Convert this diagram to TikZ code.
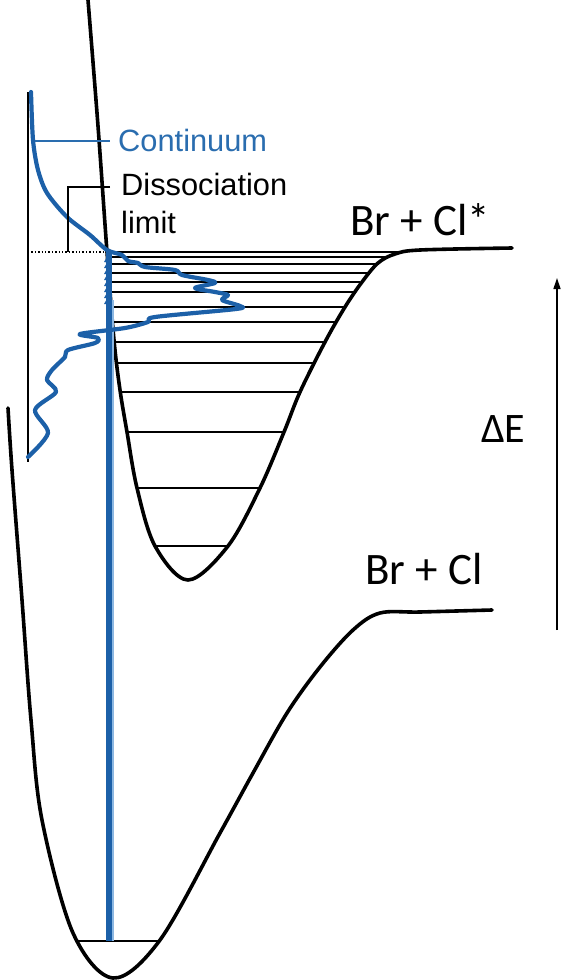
\documentclass[tikz,border=0pt]{standalone}
\usepackage{fontspec}
\setmainfont{Liberation Sans}
\newfontfamily\cali{Carlito}
\usetikzlibrary{arrows.meta}
\definecolor{specblue}{HTML}{1C60A8}
\definecolor{lightblue}{HTML}{8DB8E2}
\definecolor{contblue}{HTML}{2A6DAF}
\tikzset{
  pot/.style={line width=3.6pt, line cap=round, line join=round},
  lvl/.style={line width=1.8pt},
  thin/.style={line width=1.4pt},
  spec/.style={specblue, line width=4.2pt, line cap=round, line join=round},
  helv/.style={inner sep=0pt, anchor=base west, font=\fontsize{30.8}{38}\selectfont},
  big/.style={inner sep=0pt, anchor=base west, font=\cali\fontsize{45}{54}\selectfont},
}
\begin{document}
\begin{tikzpicture}[x=1pt,y=-1pt]
\useasboundingbox (0,0) rectangle (564,980);
% vibrational levels of the excited state
\foreach \yy/\xl/\xr in {252/107/398,257/110/387,264/110/375,273/111/367,282/111/360,292/112/353,307/113/345,322/114/335,342/115/325,363/118/314,392/121/300,432/127/284,488/137/260,546/155/228}
  \draw[lvl] (\xl,\yy) -- (\xr,\yy);
% ground state level
\draw[lvl] (75,941) -- (159,941);
% dissociation dotted line
\draw[thin, dotted] (28,252) -- (107,252);
% excited potential
\draw[pot] plot[smooth, tension=0.55] coordinates {(88,0) (98,126) (107,252) (114,340) (120,390) (127,432) (137,488) (155,546) (188,580) (228,546) (260,488) (284,432) (300,392) (325,342) (345,307) (362,282) (378,263) (395,254) (420,250) (512,248)};
% ground potential
\draw[pot] plot[smooth, tension=0.55] coordinates {(8,408) (12,470) (22,600) (31,720) (42,820) (73,933) (113,978) (160,940) (220,833) (253,773) (287,713) (320,667) (353,630) (380,613) (420,612) (492,610)};
% vertical transition
\draw[specblue, line width=6pt] (109,252) -- (109,941);
\draw[lightblue, line width=1.8pt] (113,300) -- (113,941);
% spectrum axis
\draw[thin] (28,92) -- (28,462);
% spectrum
\draw[spec] plot[smooth, tension=0.5] coordinates {(31,92) (33,140) (38,170) (47,193) (67,217) (90,235) (107,250) (122,255) (128,261) (138,263) (145,267) (175,270) (182,275) (208,280) (215,283) (195,288) (215,292) (228,295) (222,300) (240,306) (236,309) (155,317) (148,322) (125,328) (80,334) (98,338) (95,343) (68,350) (65,357) (52,370) (47,380) (56,392) (35,410) (48,433) (28,457)};
% line markers
\foreach \yy in {258,264,270,276,282,288,294,300}
  \fill[specblue] (104,\yy+4) -- (108,\yy-3) -- (112,\yy+4) -- cycle;
% labels
\node[helv, text=contblue] (cont) at (118,151) {Continuum};
\node[helv] (diss) at (121,195) {Dissociation};
\node[helv] (lim) at (121,233) {limit};
\coordinate (contL) at (35,141);
\coordinate (contR) at (110,141);
\draw[contblue, thin] (contL) -- (contR);
\coordinate (dissR) at (110,187);
\coordinate (dissC) at (68,187);
\coordinate (dissB) at (68,252);
\draw[thin] (dissR) -- (dissC) -- (dissB);
\node[big] (brcls) at (350,235) {Br + Cl*};
\node[big] (brcl) at (365,584) {Br + Cl};
\node[big, font=\cali\fontsize{42}{50}\selectfont] (dE) at (481,442) {ΔE};
\coordinate (arB) at (557,630);
\coordinate (arT) at (557,278);
\draw[line width=1.4pt, -{Triangle[length=11pt,width=7pt]}] (arB) -- (arT);
\end{tikzpicture}
\end{document}
